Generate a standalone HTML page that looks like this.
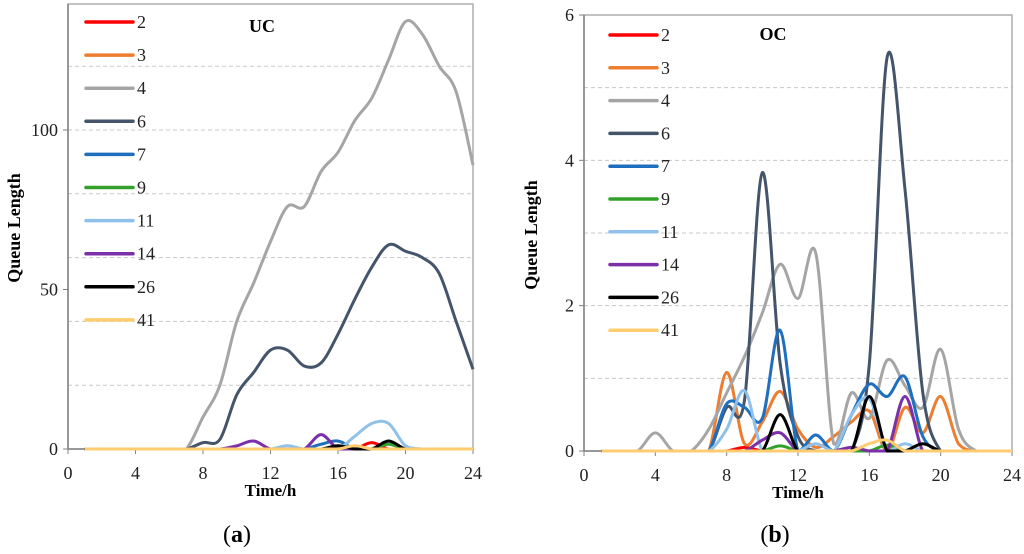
<!DOCTYPE html>
<html><head><meta charset="utf-8"><style>
html,body{margin:0;padding:0;background:#fff;width:1024px;height:554px;overflow:hidden}
svg text{font-family:"Liberation Serif",serif}
</style></head><body>
<svg id="svg" width="1024" height="554" xmlns="http://www.w3.org/2000/svg"></svg>
<script>
const hours = [1,2,3,4,5,6,7,8,9,10,11,12,13,14,15,16,17,18,19,20,21,22,23,24];
const seriesNames = ['2','3','4','6','7','9','11','14','26','41'];
const seriesColors = ['#ff0000','#ed7d31','#a5a5a5','#44546a','#1f6fbf','#33a02c','#8fc1ea','#7b2fa8','#000000','#ffcc70'];
const xTicks = [0,4,8,12,16,20,24];
const ucTicks = [0,50,100];
const ocTicks = [0,2,4,6];
const uc2  = [0,0,0,0,0,0,0,0,0,0,0,0,0,0,0,0,0,2,0,0,0,0,0,0];
const uc3  = [0,0,0,0,0,0,0,0,0,0,0,0,0,0,0,0,0,0,0,0,0,0,0,0];
const uc4  = [0,0,0,0,0,0,0,10,20,40,52,65,76,76,87,93,103,110,122,134,130,120,112,89];
const uc6  = [0,0,0,0,0,0,0,2,3,17,24,31,31,26,27,36,47,57,64,62,60,55,40,25];
const uc7  = [0,0,0,0,0,0,0,0,0,0,0,0,0,0,1.5,2.5,0,0,0,0,0,0,0,0];
const uc9  = [0,0,0,0,0,0,0,0,0,0,0,0,0,0,0,0,0,0,1.5,0,0,0,0,0];
const uc11 = [0,0,0,0,0,0,0,0,0,0,0,0,1,0,0,0,4,8,8,1,0,0,0,0];
const uc14 = [0,0,0,0,0,0,0,0,0,1,2.5,0,0,0,4.5,0,0,0,0,0,0,0,0,0];
const uc26 = [0,0,0,0,0,0,0,0,0,0,0,0,0,0,0,1,0,0,2.5,0,0,0,0,0];
const uc41 = [0,0,0,0,0,0,0,0,0,0,0,0,0,0,0,0,1,0,0,0,0,0,0,0];
const oc2  = [0,0,0,0,0,0,0,0,0.05,0,0,0,0,0,0,0,0,0,0,0,0,0,0,0];
const oc3  = [0,0,0,0,0,0,0,1.08,0.1,0.4,0.82,0.3,0.05,0.2,0.4,0.55,0,0.6,0.25,0.75,0.1,0,0,0];
const oc4  = [0,0,0,0.25,0,0,0.3,0.8,1.3,1.9,2.57,2.1,2.72,0.1,0.8,0.45,1.25,0.9,0.6,1.4,0.3,0,0,0];
const oc6  = [0,0,0,0,0,0,0,0.6,0.7,3.83,1.2,0.2,0,0,0,1.2,5.42,3.6,0.8,0,0,0,0,0];
const oc7  = [0,0,0,0,0,0,0,0.65,0.6,0.45,1.66,0,0.22,0,0.5,0.92,0.75,1.02,0.2,0,0,0,0,0];
const oc9  = [0,0,0,0,0,0,0,0,0,0,0.07,0,0,0,0,0,0.08,0,0,0,0,0,0,0];
const oc11 = [0,0,0,0,0,0,0,0.3,0.83,0,0,0,0.1,0,0.5,0.72,0,0.1,0,0,0,0,0,0];
const oc14 = [0,0,0,0,0,0,0,0,0,0.15,0.25,0,0,0,0.05,0,0,0.75,0,0,0,0,0,0];
const oc26 = [0,0,0,0,0,0,0,0,0,0,0.5,0,0,0,0,0.75,0,0,0.1,0,0,0,0,0];
const oc41 = [0,0,0,0,0,0,0,0,0,0,0,0,0,0,0,0.1,0.15,0,0,0,0,0,0,0];
const ucData = [uc2,uc3,uc4,uc6,uc7,uc9,uc11,uc14,uc26,uc41];
const ocData = [oc2,oc3,oc4,oc6,oc7,oc9,oc11,oc14,oc26,oc41];

const NS='http://www.w3.org/2000/svg';
const svg=document.getElementById('svg');
function mk(tag,attrs,parent){const e=document.createElementNS(NS,tag);for(const k in attrs)e.setAttribute(k,attrs[k]);(parent||svg).appendChild(e);return e;}
function txt(s,attrs,parent){const e=mk('text',attrs,parent);e.textContent=s;return e;}

function drawChart(cfg,data,ticks,title,tag){
  const g=mk('g',{});
  
  
  const xs=v=>cfg.x0+(v/24)*(cfg.x1-cfg.x0);
  const ys=v=>cfg.y0-(v/cfg.ymax)*(cfg.y0-cfg.ytop);
  for(let v=cfg.gstep; v<=cfg.gmax+1e-9; v+=cfg.gstep){
    const l=mk('line',{x1:cfg.x0,x2:cfg.x1,y1:ys(v),y2:ys(v),stroke:'#c8c8c8','stroke-dasharray':'4,3','stroke-width':1},g);
    
    
  }
  const fr=mk('rect',{x:cfg.x0,y:cfg.frameTop,width:cfg.x1-cfg.x0,height:cfg.y0-cfg.frameTop,fill:'none',stroke:'#a0a0a0','stroke-width':1.3},g);
  
  
  mk('line',{x1:cfg.x0,x2:cfg.x1,y1:cfg.y0,y2:cfg.y0,stroke:'#808080','stroke-width':1.5},g);
  mk('line',{x1:cfg.x0,x2:cfg.x0,y1:cfg.frameTop,y2:cfg.y0,stroke:'#808080','stroke-width':1.5},g);
  ticks.forEach(v=>{
    mk('line',{x1:cfg.x0-5,x2:cfg.x0,y1:ys(v),y2:ys(v),stroke:'#808080'},g);
    const t=txt(String(v),{x:cfg.x0-10,y:ys(v)+6,'text-anchor':'end','font-size':18,fill:'#222'},g);
    
    
  });
  xTicks.forEach(v=>{
    mk('line',{x1:xs(v),x2:xs(v),y1:cfg.y0,y2:cfg.y0+5,stroke:'#808080'},g);
    const t=txt(String(v),{x:xs(v),y:cfg.y0+30,'text-anchor':'middle','font-size':18,fill:'#222'},g);
    
    
  });
  const xt=txt('Time/h',{x:(cfg.x0+cfg.x1)/2,y:cfg.y0+47,'text-anchor':'middle','font-size':17,'font-weight':'bold'},g);
  
  
  const yt=txt('Queue Length',{x:0,y:0,'text-anchor':'middle','font-size':18,'font-weight':'bold',transform:`translate(${cfg.ytx},${cfg.yty}) rotate(-90)`},g);
  
  
  const tt=txt(title,{x:cfg.titleX,y:cfg.titleY,'text-anchor':'middle','font-size':18,'font-weight':'bold'},g);
  
  
  data.forEach((vals,si)=>{
    const pts=hours.map((h,i)=>[xs(h),ys(vals[i])]);
    let d='M'+pts[0][0]+','+pts[0][1];
    for(let i=0;i<pts.length-1;i++){
      const p0=pts[Math.max(0,i-1)],p1=pts[i],p2=pts[i+1],p3=pts[Math.min(pts.length-1,i+2)];
      const c1x=p1[0]+(p2[0]-p0[0])/6,c1y=p1[1]+(p2[1]-p0[1])/6;
      const c2x=p2[0]-(p3[0]-p1[0])/6,c2y=p2[1]-(p3[1]-p1[1])/6;
      d+=` C${c1x},${Math.min(c1y,cfg.y0)} ${c2x},${Math.min(c2y,cfg.y0)} ${p2[0]},${p2[1]}`;
    }
    const p=mk('path',{d:d,fill:'none',stroke:seriesColors[si],'stroke-width':3,'stroke-linejoin':'round'},g);
    
    
  });
  seriesNames.forEach((n,i)=>{
    const y=cfg.legY+i*cfg.legStep;
    const lg=mk('g',{},g);
    
    
    mk('line',{x1:cfg.legX,x2:cfg.legX+47,y1:y,y2:y,stroke:seriesColors[i],'stroke-width':3.5,'stroke-linecap':'round'},lg);
    txt(n,{x:cfg.legX+51,y:y+6,'font-size':18,fill:'#222'},lg);
  });
}
drawChart({x0:68,x1:473,y0:449,ytop:130,ymax:100,frameTop:4,gstep:20,gmax:120,ytx:20,yty:228,titleX:262,titleY:32,legX:86,legY:22,legStep:33.1},ucData,ucTicks,'UC','uc');
drawChart({x0:584,x1:1012,y0:451,ytop:15,ymax:6,frameTop:15,gstep:1,gmax:5,ytx:537,yty:235,titleX:773,titleY:40,legX:610,legY:35,legStep:32.8},ocData,ocTicks,'OC','oc');
const la=mk('text',{x:237,y:542,'text-anchor':'middle','font-size':24});
la.innerHTML='(<tspan font-weight="bold">a</tspan>)';


const lb=mk('text',{x:775,y:542,'text-anchor':'middle','font-size':24});
lb.innerHTML='(<tspan font-weight="bold">b</tspan>)';


</script>
</body></html>
